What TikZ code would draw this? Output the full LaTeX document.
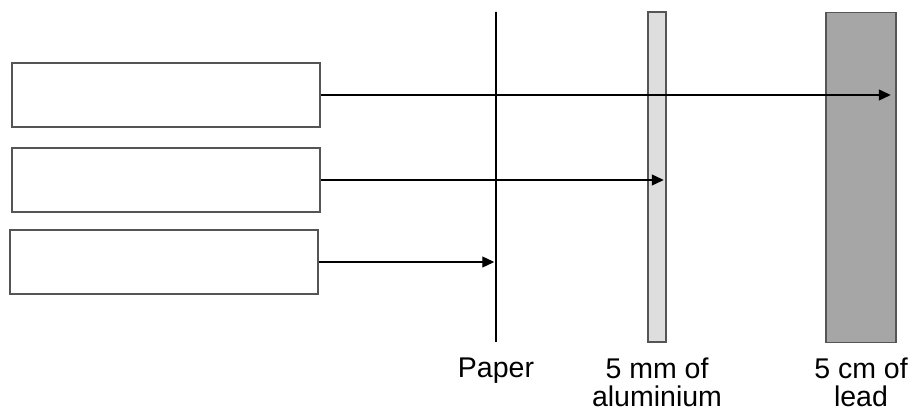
\documentclass[tikz,border=0pt]{standalone}
\usepackage{fontspec}
\setmainfont{Liberation Sans}
\usetikzlibrary{arrows.meta,positioning}
\definecolor{alugray}{RGB}{222, 222, 222}
\definecolor{leadgray}{RGB}{166, 166, 166}
\definecolor{edgegray}{RGB}{85, 85, 85}

\begin{document}
\begin{tikzpicture}[x=1pt, y=1pt,
    radbox/.style={draw=edgegray, line width=2pt, minimum width=308pt,
        minimum height=64pt, inner sep=0pt},
    shield/.style={draw=edgegray, line width=1.5pt, minimum height=330pt,
        inner sep=0pt},
    ray/.style={-{Triangle[length=12pt, width=11pt]}, line width=1.3pt},
    caption/.style={below=14.5pt, align=center, inner sep=0pt,
        font=\fontsize{28.5}{28}\selectfont}
    ]

    \useasboundingbox (0, 0) rectangle (915, 412);

    % empty boxes for the three kinds of radiation
    \node[radbox] (boxa) at (166, 317) {};
    \node[radbox] (boxb) at (166, 232) {};
    \node[radbox] (boxc) at (164, 150) {};

    % absorbers
    \node[shield, draw=black, minimum width=0pt] (paper) at (496, 235) {};
    \node[shield, fill=alugray, minimum width=18pt] (alu) at (657, 235) {};
    \node[shield, fill=leadgray, minimum width=70pt] (lead) at (861, 234.5) {};

    \node[caption] (paperlabel) at (paper.south) {Paper};
    \node[caption] (alulabel) at (alu.south) {5 mm of\\aluminium};
    \node[caption] (leadlabel) at (lead.south) {5 cm of\\lead};

    % paths through the absorbers
    \draw[ray, shorten >=6pt] (boxa.east) -- (boxa.east -| lead.east);
    \draw[ray, shorten >=3pt] (boxb.east) -- (boxb.east -| alu.east);
    \draw[ray, shorten >=1pt] (boxc.east) -- (boxc.east -| paper.west);

\end{tikzpicture}
\end{document}
